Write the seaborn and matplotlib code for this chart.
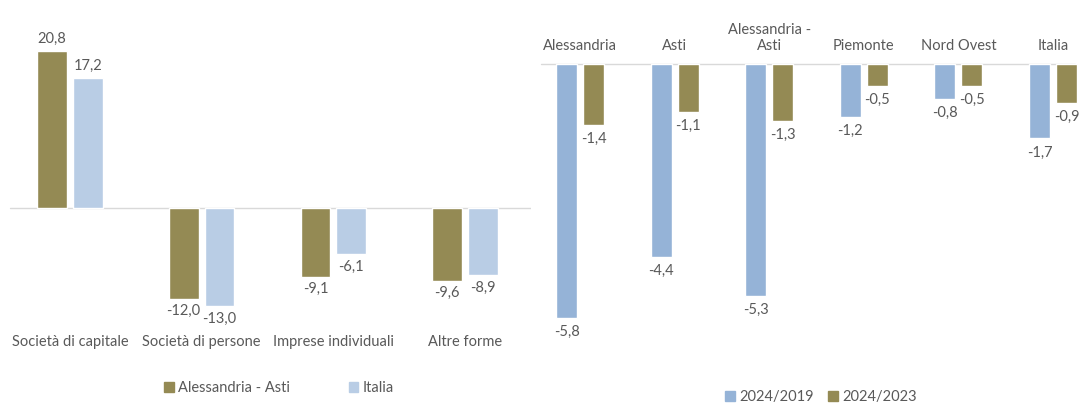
import pandas as pd
import numpy as np
import matplotlib.pyplot as plt
import seaborn as sns
from matplotlib.patches import Patch

# dati
forme = ['Società di capitale', 'Società di persone', 'Imprese individuali', 'Altre forme']
al_asti = [20.8, -12.0, -9.1, -9.6]
italia = [17.2, -13.0, -6.1, -8.9]

territori = ['Alessandria', 'Asti', 'Alessandria -\nAsti', 'Piemonte', 'Nord Ovest', 'Italia']
var_2019 = [-5.8, -4.4, -5.3, -1.2, -0.8, -1.7]
var_2023 = [-1.4, -1.1, -1.3, -0.5, -0.5, -0.9]

OLIVA = '#948A54'
AZZ_CHIARO = '#B9CDE5'
AZZ = '#95B3D7'
GRIGIO = '#595959'
FS = 10.5

sns.set_style('white')
plt.rcParams['font.family'] = ['Lato', 'DejaVu Sans']
plt.rcParams['text.color'] = GRIGIO

df_sx = pd.DataFrame({'forma': forme * 2,
                      'serie': ['Alessandria - Asti'] * 4 + ['Italia'] * 4,
                      'valore': al_asti + italia})
df_dx = pd.DataFrame({'territorio': territori * 2,
                      'serie': ['2024/2019'] * 6 + ['2024/2023'] * 6,
                      'valore': var_2019 + var_2023})

W, H = 1082, 404
fig = plt.figure(figsize=(W / 100, H / 100), dpi=100)

def fmt(v):
    return f'{v:.1f}'.replace('.', ',')

#%% pannello sinistro
ax1 = fig.add_axes([4 / W, (H - 320) / H, 527 / W, 290 / H])
sns.barplot(data=df_sx, x='forma', y='valore', hue='serie', ax=ax1,
            palette=[OLIVA, AZZ_CHIARO], width=0.545, gap=0.17,
            saturation=1, legend=False)
ax1.set_xlim(-0.5, 3.5)
ax1.set_ylim(-14.83, 23.58)
ax1.axhline(0, xmin=6 / 527, xmax=1, color='#D9D9D9', lw=1, zorder=0)
for c in ax1.containers:
    ax1.bar_label(c, labels=[fmt(b.get_height()) for b in c], padding=4,
                  fontsize=FS, color=GRIGIO)
ax1.set_yticks([])
ax1.tick_params(axis='x', length=0, pad=11, labelsize=FS, labelcolor=GRIGIO)
ax1.set_xlabel('')
ax1.set_ylabel('')
sns.despine(ax=ax1, left=True, bottom=True)

#%% pannello destro
ax2 = fig.add_axes([533 / W, (H - 345) / H, 549 / W, 281 / H])
sns.barplot(data=df_dx, x='territorio', y='valore', hue='serie', ax=ax2,
            palette=[AZZ, OLIVA], width=0.57, gap=0.22,
            saturation=1, legend=False)
ax2.set_xlim(-0.5, (W - 580.5) / 94.5)
ax2.set_ylim(-6.416, 0)
ax2.axhline(0, xmin=8 / 549, xmax=542 / 549, color='#D9D9D9', lw=1,
            clip_on=False, zorder=0)
for c in ax2.containers:
    ax2.bar_label(c, labels=[fmt(b.get_height()) for b in c], padding=5,
                  fontsize=FS, color=GRIGIO)
ax2.set_yticks([])
ax2.xaxis.tick_top()
ax2.tick_params(axis='x', length=0, pad=8, labelsize=FS, labelcolor=GRIGIO)
ax2.set_xlabel('')
ax2.set_ylabel('')
sns.despine(ax=ax2, left=True, bottom=True, top=True, right=True)

#%% legende
fig.legend(handles=[Patch(color=OLIVA, label='Alessandria - Asti'),
                    Patch(color=AZZ_CHIARO, label='Italia')],
           loc='center', bbox_to_anchor=(279 / W, 1 - 388 / H), ncol=2,
           frameon=False, fontsize=FS, handlelength=0.65, handleheight=0.65,
           handletextpad=0.3, columnspacing=4.0, labelcolor=GRIGIO)
fig.legend(handles=[Patch(color=AZZ, label='2024/2019'),
                    Patch(color=OLIVA, label='2024/2023')],
           loc='center', bbox_to_anchor=(821 / W, 1 - 397 / H), ncol=2,
           frameon=False, fontsize=FS, handlelength=0.65, handleheight=0.65,
           handletextpad=0.3, columnspacing=1.0, labelcolor=GRIGIO)

fig.savefig('out.png', dpi=100)
